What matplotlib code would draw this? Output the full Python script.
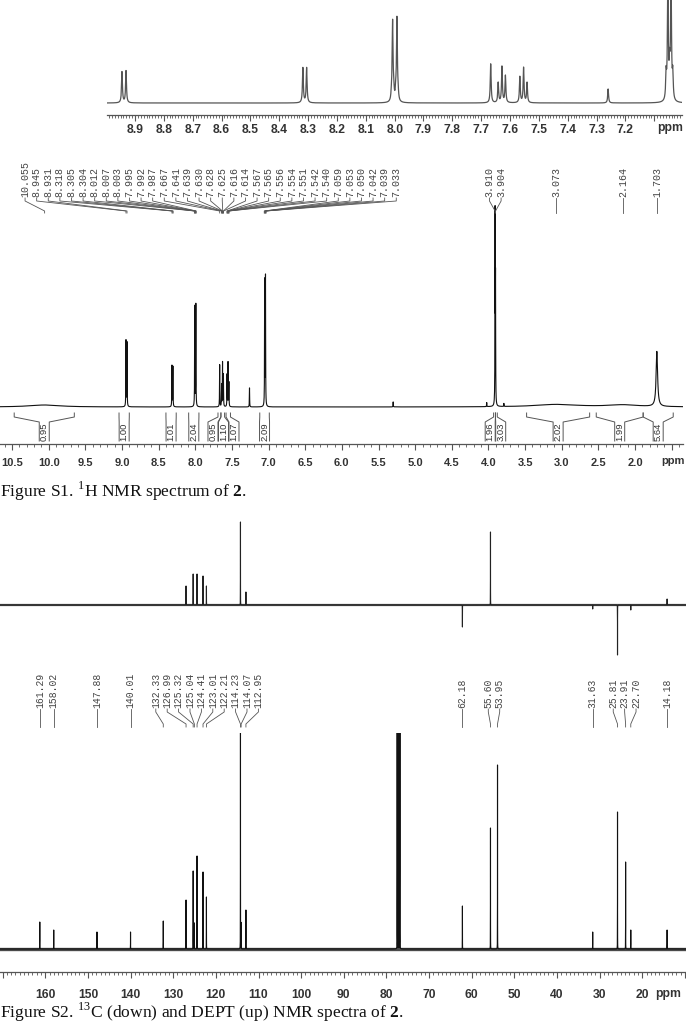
import numpy as np
import matplotlib
matplotlib.use("Agg")
import matplotlib.pyplot as plt
from matplotlib.ticker import MultipleLocator, FuncFormatter

W, H = 686, 1030

# ---------------- 1H expansion (top strip) ----------------
exp_ppm = [8.945, 8.931, 8.318, 8.305, 8.011, 8.007, 8.003, 7.996, 7.992, 7.988,
           7.667, 7.641, 7.628, 7.616, 7.566, 7.553, 7.541, 7.260,
           7.059, 7.053, 7.047, 7.042, 7.036]
exp_int = [31, 32, 35, 35, 6, 80, 8, 8, 83, 6,
           39, 20, 36, 27, 26, 35, 20, 14,
           25, 120, 30, 125, 25]

# ---------------- 1H full spectrum ----------------
h_ppm = [10.055, 8.945, 8.931, 8.318, 8.305, 8.007, 7.992, 7.667, 7.641, 7.628,
         7.616, 7.566, 7.553, 7.541, 7.260, 7.053, 7.042, 5.300, 4.024, 3.910,
         3.904, 3.790, 3.073, 2.164, 1.703]
h_int = [2, 66, 64, 41, 40, 100, 102, 42, 22, 44,
         32, 32, 44, 24, 19, 125, 129, 5, 4, 189,
         120, 3, 2.5, 2, 55]
h_wid = [0.25, 0.002, 0.002, 0.002, 0.002, 0.002, 0.002, 0.002, 0.002, 0.002,
         0.002, 0.002, 0.002, 0.002, 0.002, 0.002, 0.002, 0.002, 0.002, 0.002,
         0.002, 0.002, 0.35, 0.25, 0.012]

h_labels = ["10.055", "8.945", "8.931", "8.318", "8.305", "8.304", "8.012", "8.007",
            "8.003", "7.995", "7.992", "7.987", "7.667", "7.641", "7.639", "7.630",
            "7.628", "7.625", "7.616", "7.614", "7.567", "7.565", "7.556", "7.554",
            "7.551", "7.542", "7.540", "7.059", "7.053", "7.050", "7.042", "7.039",
            "7.033", "3.910", "3.904", "3.073", "2.164", "1.703"]

int_values = ["0.95", "1.00", "1.01", "2.04", "0.95", "1.10", "1.07", "2.09",
              "1.96", "3.03", "2.02", "1.99", "5.64"]
int_from = [10.47, 9.04, 8.40, 8.09, 7.69, 7.65, 7.58, 7.12, 3.93, 3.905, 3.48, 2.53, 1.89]
int_to = [9.65, 8.90, 8.26, 7.95, 7.65, 7.60, 7.52, 6.99, 3.905, 3.88, 2.62, 1.89, 1.48]

# ---------------- DEPT ----------------
dept_ppm = [126.99, 125.32, 124.41, 123.01, 122.21, 114.23, 112.95,
            62.18, 55.60, 31.63, 25.81, 22.70, 14.18]
dept_int = [19, 31, 31, 29, 19, 83, 13, -22, 73, -4, -50, -5, 6]

# ---------------- 13C ----------------
c_ppm = [161.29, 158.02, 147.88, 140.01, 132.33, 126.99, 125.32, 125.04, 124.41,
         123.01, 122.21, 114.23, 114.07, 112.95, 77.48, 77.16, 76.84, 62.18,
         55.60, 53.95, 31.63, 25.81, 23.91, 22.70, 14.18]
c_int = [27, 19, 17, 17, 28, 49, 78, 26, 93,
         77, 52, 260, 26, 39, 260, 260, 260, 43,
         121, 184, 17, 137, 87, 19, 19]
c_labels = ["161.29", "158.02", "147.88", "140.01", "132.33", "126.99", "125.32",
            "125.04", "124.41", "123.01", "122.21", "114.23", "114.07", "112.95",
            "62.18", "55.60", "53.95", "31.63", "25.81", "23.91", "22.70", "14.18"]

plt.rcParams['mathtext.fontset'] = 'custom'
plt.rcParams['mathtext.rm'] = 'Liberation Serif'
plt.rcParams['mathtext.bf'] = 'Liberation Serif:bold'

TICKFONT = ['Liberation Sans Narrow', 'Liberation Sans']
LINE = '#555555'

fig = plt.figure(figsize=(W / 100, H / 100), dpi=100)


def px_axes(x0, y0, x1, y1):
    return fig.add_axes([x0 / W, 1 - y1 / H, (x1 - x0) / W, (y1 - y0) / H])


def lorentz(grid, centers, heights, widths):
    y = np.zeros_like(grid)
    for c, h, w in zip(centers, heights, widths):
        y += h / (1 + ((grid - c) / w) ** 2)
    return y


def make_grid(lo, hi, n, centers):
    return np.sort(np.concatenate([np.linspace(lo, hi, n), centers]))


def spread(xs, d):
    xs = np.asarray(xs, float)
    order = np.argsort(xs)
    groups = [[v] for v in xs[order]]

    def place(g):
        c = np.mean(g)
        return c + d * (np.arange(len(g)) - (len(g) - 1) / 2)

    merged = True
    while merged:
        merged = False
        for i in range(len(groups) - 1):
            if place(groups[i])[-1] + d > place(groups[i + 1])[0] + 1e-9:
                groups[i] = groups[i] + groups.pop(i + 1)
                merged = True
                break
    pos = np.concatenate([place(g) for g in groups])
    out = np.empty_like(pos)
    out[order] = pos
    return out


def scale_axis(ax, major, minor, pad, fs, lab_lo, lab_hi, fmt):
    for s in ['top', 'left', 'right']:
        ax.spines[s].set_visible(False)
    ax.spines['bottom'].set_color(LINE)
    ax.spines['bottom'].set_linewidth(0.9)
    ax.yaxis.set_visible(False)
    ax.xaxis.set_major_locator(MultipleLocator(major))
    ax.xaxis.set_minor_locator(MultipleLocator(minor))
    ax.xaxis.set_major_formatter(FuncFormatter(
        lambda v, p: fmt.format(v) if lab_lo - 1e-6 <= v <= lab_hi + 1e-6 else ''))
    ax.tick_params(axis='x', which='major', length=4, width=0.8, color=LINE,
                   pad=pad, labelsize=fs, labelcolor='#333333')
    ax.tick_params(axis='x', which='minor', length=2, width=0.6, color=LINE)
    for t in ax.get_xticklabels():
        t.set_family(TICKFONT)
        t.set_fontweight('bold')
    ax.patch.set_alpha(0)


def to_px(ax, ppm):
    ppm = np.asarray(ppm, float)
    return ax.transData.transform(np.column_stack([ppm, np.zeros_like(ppm)]))[:, 0]


ov = fig.add_axes([0, 0, 1, 1])
ov.set_xlim(0, W)
ov.set_ylim(H, 0)
ov.axis('off')
ov.set_zorder(10)
ov.patch.set_alpha(0)

# ---- expansion ----
ax_e = px_axes(107, 0, 682, 115)
ax_e.set_xlim(8.997, 7.004)
ax_e.set_ylim(0, 115)
g = make_grid(7.0, 9.0, 20000, exp_ppm)
ax_e.plot(g, 12 + lorentz(g, exp_ppm, exp_int, [0.0018] * len(exp_ppm)),
          color='#555555', lw=0.9)
scale_axis(ax_e, 0.1, 0.01, 2.5, 8.7, 7.2, 8.9, '{:.1f}')
ov.text(670, 122.5, 'ppm', ha='center', va='top', fontsize=8.7,
        family=TICKFONT, fontweight='bold', color='#333333')

# ---- 1H ----
ax_h = px_axes(0, 150, 683, 444)
ax_h.set_xlim(10.6637, 1.3465)
ax_h.set_ylim(0, 294)
g = make_grid(1.3, 10.7, 24000, h_ppm)
ax_h.plot(g, 37 + lorentz(g, h_ppm, h_int, h_wid), color='#111111', lw=0.8)
scale_axis(ax_h, 0.5, 0.1, 5.8, 8, 2.0, 10.5, '{:.1f}')
ov.text(673, 456, 'ppm', ha='center', va='top', fontsize=8,
        family=TICKFONT, fontweight='bold', color='#333333')

peak_x = to_px(ax_h, [float(s) for s in h_labels])
col_x = spread(peak_x, 11.6)
for s, lx, pk in zip(h_labels, col_x, peak_x):
    ov.text(lx, 197, s, rotation=90, ha='center', va='bottom',
            family='Liberation Mono', fontsize=7.2, color='#444444')
    ov.plot([lx, lx, pk, pk], [198, 201, 211, 213], color=LINE, lw=0.6)

xa = to_px(ax_h, int_from)
xb = to_px(ax_h, int_to)
box_x = spread((xa + xb) / 2, 10.5)
for s, a, b, c in zip(int_values, xa, xb, box_x):
    ov.plot([a, a, c - 5, c - 5], [413, 417, 422, 441], color=LINE, lw=0.7)
    ov.plot([b, b, c + 5, c + 5], [413, 417, 422, 441], color=LINE, lw=0.7)
    ov.text(c, 431.5, s, rotation=90, ha='center', va='center',
            family='Liberation Sans', fontsize=6.8, color='#333333')

ov.text(0, 497, r"Figure S1. $^{1}$H NMR spectrum of $\mathbf{2}$.",
        family='Liberation Serif', fontsize=12.6, ha='left', va='baseline',
        color='#111111')

# ---- DEPT ----
ax_d = px_axes(0, 500, 686, 665)
ax_d.set_xlim(170.62, 9.75)
ax_d.set_ylim(-60, 105)
ax_d.axis('off')
g = make_grid(9, 171, 60000, dept_ppm)
ax_d.axhline(0, color='#333333', lw=1.6, alpha=0.85)
ax_d.plot(g, lorentz(g, dept_ppm, dept_int, [0.008] * len(dept_ppm)),
          color='#222222', lw=0.8)

# ---- 13C ----
ax_c = px_axes(0, 733, 686, 971.5)
ax_c.set_xlim(170.62, 9.75)
ax_c.set_ylim(0, 238.5)
g = make_grid(9, 171, 60000, c_ppm)
ax_c.axhline(22.5, color='#2a2a2a', lw=2.4, alpha=0.85)
ax_c.plot(g, 22.5 + lorentz(g, c_ppm, c_int, [0.008] * len(c_ppm)),
          color='#111111', lw=0.8)
scale_axis(ax_c, 10, 1, 8.3, 8.7, 20, 160, '{:.0f}')
ov.text(668, 987.5, 'ppm', ha='center', va='top', fontsize=8.7,
        family=TICKFONT, fontweight='bold', color='#333333')

peak_x = to_px(ax_c, [float(s) for s in c_labels])
col_x = spread(peak_x, 11.4)
for s, lx, pk in zip(c_labels, col_x, peak_x):
    ov.text(lx, 708, s, rotation=90, ha='center', va='bottom',
            family='Liberation Mono', fontsize=7.0, color='#444444')
    ov.plot([lx, lx, pk, pk], [709, 712, 724, 727], color=LINE, lw=0.6)

ov.text(0, 1018, r"Figure S2. $^{13}$C (down) and DEPT (up) NMR spectra of $\mathbf{2}$.",
        family='Liberation Serif', fontsize=12.6, ha='left', va='baseline',
        color='#111111')

fig.savefig('out.png', dpi=100)
